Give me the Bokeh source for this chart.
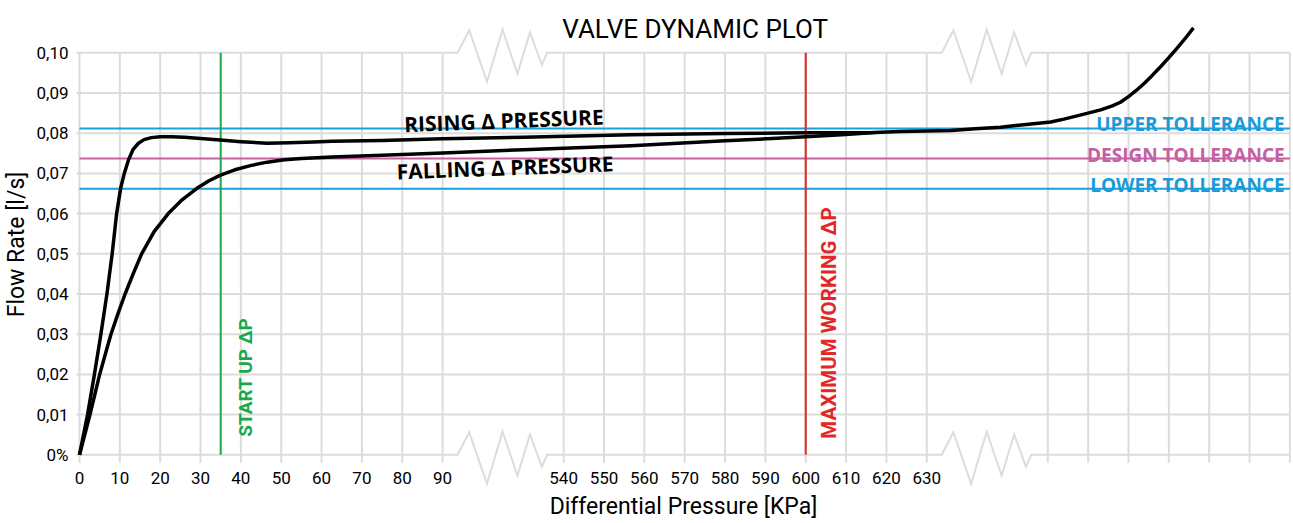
import math
from bokeh.plotting import figure
from bokeh.models import Range1d, FixedTicker, CustomJSTickFormatter, Label
from bokeh.core.properties import value
from bokeh.embed import file_html
from bokeh.resources import INLINE

# ---------------- data ----------------
# Broken x axis: positions on the drawn scale and the KPa labels shown there
x_tick_pos = [0, 10, 20, 30, 40, 50, 60, 70, 80, 90,
              120, 130, 140, 150, 160, 170, 180, 190, 200, 210]
x_tick_labels = ["0", "10", "20", "30", "40", "50", "60", "70", "80", "90",
                 "540", "550", "560", "570", "580", "590", "600", "610", "620", "630"]
x_extra_grid = [240, 250, 260, 270, 280, 290, 300]
y_ticks = [0.00, 0.01, 0.02, 0.03, 0.04, 0.05, 0.06, 0.07, 0.08, 0.09, 0.10]

# axis-break zigzag (start positions on drawn scale, shape offsets)
break_starts = [93.7, 213.7]
zig_dx = [0, 2.9, 7.3, 11.15, 14.85, 17.95, 20.9, 22.2]
zig_dy = [0, 0.0056, -0.0072, 0.0058, -0.0052, 0.0051, -0.0030, 0]

# curves (x on the drawn broken scale, flow rate in l/s)
rising_pos = [0, 2.0, 3.7, 5.3, 6.8, 8.1, 9.2, 10.2, 11.1, 12.2, 13.3, 14.6, 16.0,
              17.8, 20.0, 22.8, 26.0, 30.0, 34.9, 40.0, 46.5, 52.0, 58.0, 62.6, 75.0,
              90.0, 110.0, 136.7, 160.0, 180.0, 197.0, 203.6, 216.0, 222.0, 228.3,
              234.0, 240.7, 244.0, 248.0, 253.1, 256.0, 258.0, 260.0, 262.0, 264.0,
              266.0, 268.0, 270.0, 272.0, 274.0, 276.1]
rising_val = [0, 0.0100, 0.0200, 0.0300, 0.0400, 0.0500, 0.0600, 0.0663, 0.0700,
              0.0735, 0.0760, 0.0775, 0.0784, 0.0789, 0.0791, 0.0791, 0.0790, 0.0787,
              0.0783, 0.0779, 0.0775, 0.0776, 0.0778, 0.0780, 0.0782, 0.0786, 0.0790,
              0.0796, 0.0799, 0.0801, 0.0802, 0.0804, 0.0807, 0.0811, 0.0815,
              0.0821, 0.0828, 0.0835, 0.0845, 0.0858, 0.0868, 0.0877, 0.0891, 0.0907,
              0.0925, 0.0945, 0.0966, 0.0988, 0.1011, 0.1035, 0.1062]
falling_pos = [0, 1.3, 2.6, 3.8, 5.0, 6.4, 7.8, 9.5, 11.3, 13.3, 15.4, 18.5, 22.0,
               25.5, 29.1, 32.0, 34.8, 38.5, 42.6, 46.5, 50.8, 55.0, 62.6, 75.0, 90.0,
               110.0, 136.7, 160.0, 180.0, 190.0, 197.0]
falling_val = [0, 0.0050, 0.0100, 0.0150, 0.0200, 0.0250, 0.0300, 0.0350, 0.0400,
               0.0450, 0.0500, 0.0555, 0.0600, 0.0635, 0.0663, 0.0681, 0.0695, 0.0709,
               0.0720, 0.0728, 0.0734, 0.0737, 0.0741, 0.0745, 0.0751, 0.0759, 0.0769,
               0.0781, 0.0791, 0.0797, 0.0802]

upper_tol = 0.0812
design_tol = 0.0737
lower_tol = 0.0662
startup_dp_pos = 35        # 35 KPa
max_working_dp_pos = 180   # 600 KPa on the broken scale

# ---------------- styles ----------------
GRID = "#dcdcdc"
BLUE = "#1a9fe0"
BLUE_T = "#1a9ad8"
PINK = "#c460a3"
GREEN = "#1aa84a"
RED = "#e32626"
TICKF = "Roboto"
BOLD = value("Open Sans")
COND = value("Roboto")

x_lo = -0.99
x_hi = 300.4
y_lo = -0.00838
y_hi = 0.11301

p = figure(width=1293, height=523, output_backend="svg", toolbar_location=None,
           x_range=Range1d(x_lo, x_hi), y_range=Range1d(y_lo, y_hi),
           min_border_left=74, min_border_right=2, min_border_top=0,
           min_border_bottom=35)
p.outline_line_color = None
p.xgrid.visible = False
p.ygrid.visible = False

# grid: vertical
grid_x = x_tick_pos + x_extra_grid
p.segment(x0=grid_x, y0=[-0.002] * len(grid_x), x1=grid_x, y1=[y_ticks[-1]] * len(grid_x),
          line_color=GRID, line_width=2)
# grid: horizontal (with zigzag breaks on first and last lines)
hx, hy = [], []
for yv in y_ticks:
    if yv in (y_ticks[0], y_ticks[-1]):
        xs = [-0.75]
        ys = [yv]
        for b in break_starts:
            xs += [b + d for d in zig_dx]
            ys += [yv + d for d in zig_dy]
        xs.append(300)
        ys.append(yv)
    else:
        xs = [-0.75, 300]
        ys = [yv, yv]
    hx.append(xs)
    hy.append(ys)
p.multi_line(xs=hx, ys=hy, line_color=GRID, line_width=2, line_join="miter")

# tolerance lines
for tv, col in ((upper_tol, BLUE), (design_tol, PINK), (lower_tol, BLUE)):
    p.segment(x0=[0], y0=[tv], x1=[300], y1=[tv], line_color=col, line_width=2)

# vertical markers
p.segment(x0=[startup_dp_pos], y0=[0], x1=[startup_dp_pos], y1=[y_ticks[-1]],
          line_color=GREEN, line_width=2)
p.segment(x0=[max_working_dp_pos], y0=[0], x1=[max_working_dp_pos], y1=[y_ticks[-1]],
          line_color=RED, line_width=2)

# curves
p.line(falling_pos, falling_val, line_color="black", line_width=3.5, line_join="round")
p.line(rising_pos, rising_val, line_color="black", line_width=3.5, line_join="round")

# texts
p.text(x=[298.7] * 3, y=[upper_tol, design_tol, lower_tol],
       text=["UPPER TOLLERANCE", "DESIGN TOLLERANCE", "LOWER TOLLERANCE"],
       text_color=[BLUE_T, PINK, BLUE_T], text_align="right", text_baseline="alphabetic",
       y_offset=-4, text_font=BOLD, text_font_style="bold", text_font_size="19px")
p.text(x=[105.2, 105.5], y=[0.0832, 0.0715],
       text=["RISING \u0394 PRESSURE", "FALLING \u0394 PRESSURE"],
       text_color="black", text_align="center", text_baseline="middle",
       angle=0.038, text_font=BOLD, text_font_style="bold", text_font_size="21px")
p.text(x=[startup_dp_pos], y=[0.0045], text=["START UP \u0394P"], angle=math.pi / 2,
       x_offset=25, text_color=GREEN, text_align="left", text_baseline="alphabetic",
       text_font=COND, text_font_style="bold", text_font_size="19px")
p.text(x=[max_working_dp_pos], y=[0.0040], text=["MAXIMUM WORKING \u0394P"], angle=math.pi / 2,
       x_offset=23.5, text_color=RED, text_align="left", text_baseline="alphabetic",
       text_font=COND, text_font_style="bold", text_font_size="20.5px")

p.add_layout(Label(x=152.6, y=0.1059, text="VALVE DYNAMIC PLOT", text_align="center",
                   text_baseline="alphabetic", text_font=TICKF,
                   text_font_size="26px", text_color="black"))

# axes
p.xaxis.ticker = FixedTicker(ticks=x_tick_pos)
p.xaxis.major_label_overrides = {pos: lab for pos, lab in zip(x_tick_pos, x_tick_labels)}
p.xaxis.axis_label = "Differential Pressure [KPa]"
p.yaxis.ticker = FixedTicker(ticks=y_ticks)
p.yaxis.formatter = CustomJSTickFormatter(
    code="return tick < 0.0005 ? '0%' : tick.toFixed(2).replace('.', ',');")
p.yaxis.axis_label = "Flow Rate [l/s]"
for ax in (p.xaxis[0], p.yaxis[0]):
    ax.axis_line_color = None
    ax.major_tick_line_color = None
    ax.minor_tick_line_color = None
    ax.major_tick_out = 0
    ax.major_tick_in = 0
    ax.major_label_text_font = TICKF
    ax.major_label_text_font_size = "17px"
    ax.major_label_text_color = "black"
    ax.axis_label_text_font = TICKF
    ax.axis_label_text_font_size = "23px"
    ax.axis_label_text_font_style = "normal"
    ax.axis_label_text_color = "black"
p.xaxis.major_label_standoff = -17
p.xaxis.axis_label_standoff = 6
p.yaxis.major_label_standoff = 7
p.yaxis.axis_label_standoff = 3

open("out.html", "w").write(file_html(p, INLINE))
